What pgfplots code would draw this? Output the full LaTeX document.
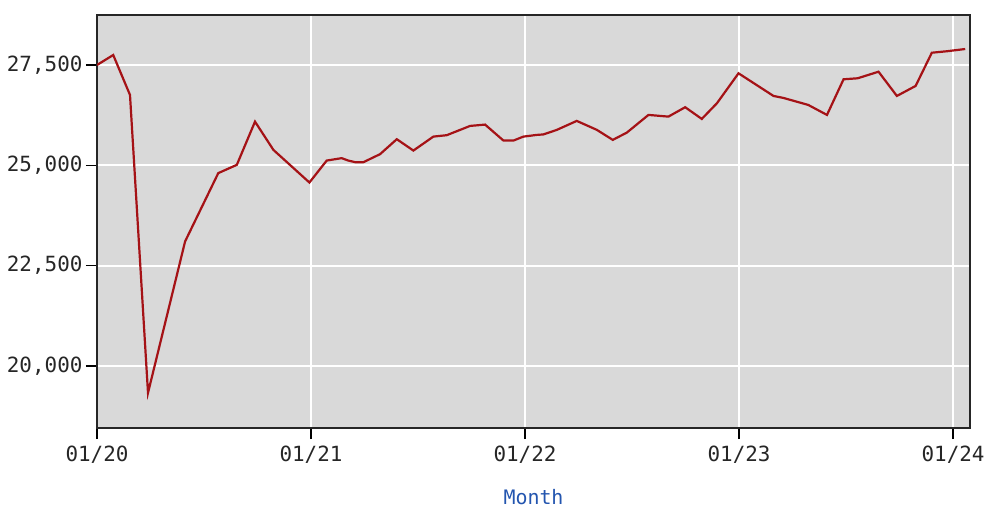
\documentclass[border=0pt]{standalone}
\usepackage{fontspec}
\setmainfont{DejaVu Sans Mono}
\usepackage{pgfplots}
\pgfplotsset{compat=1.18}
\definecolor{bg}{RGB}{217,217,217}
\definecolor{ln}{RGB}{165,18,22}
\definecolor{lab}{RGB}{35,85,175}
\begin{document}
\begin{tikzpicture}
\path (0,0) rectangle (1008bp,524bp);
\begin{axis}[at={(97bp,96bp)}, anchor=south west, scale only axis, width=873bp, height=413bp,
xmin=0, xmax=48.95, ymin=18455, ymax=28746,
scaled y ticks=false, scaled x ticks=false,
xtick={0,12,24,36,48}, xticklabels={01/20,01/21,01/22,01/23,01/24},
ytick={20000,22500,25000,27500}, yticklabels={{20,000},{22,500},{25,000},{27,500}},
xtick pos=bottom, ytick pos=left, tick align=outside, major tick length=11bp,
tick style={black, line width=1.2bp},
grid=major, grid style={white, line width=2bp},
axis background/.style={fill=bg},
axis line style={black!85, line width=1.5bp},
ticklabel style={font=\fontsize{21}{24}\selectfont, text=black!85},
xticklabel style={yshift=-3bp},
xlabel={Month}, xlabel style={font=\fontsize{20}{24}\selectfont, text=lab, yshift=-20bp},
]
\addplot[ln, line width=2.2bp] table {
x y
0 27500
0.91 27749
1.85 26754
2.86 19330
4.94 23104
6.8 24806
7.84 25012
8.86 26089
9.89 25385
11.91 24572
12.88 25119
13.72 25179
14.09 25119
14.47 25079
14.94 25079
15.87 25278
16.81 25651
17.74 25368
18.86 25716
19.61 25751
20.92 25982
21.76 26015
22.79 25617
23.35 25617
23.91 25716
24.66 25758
25.03 25770
25.78 25883
26.9 26107
28.03 25883
28.92 25634
29.71 25816
30.92 26256
32.04 26214
32.98 26448
33.91 26156
34.76 26547
35.97 27293
37.18 26945
37.93 26729
38.49 26679
39.88 26505
40.93 26256
41.86 27144
42.65 27169
43.82 27333
44.85 26729
45.9 26978
46.81 27806
47.66 27843
48.68 27898
};
\end{axis}
\end{tikzpicture}
\end{document}
